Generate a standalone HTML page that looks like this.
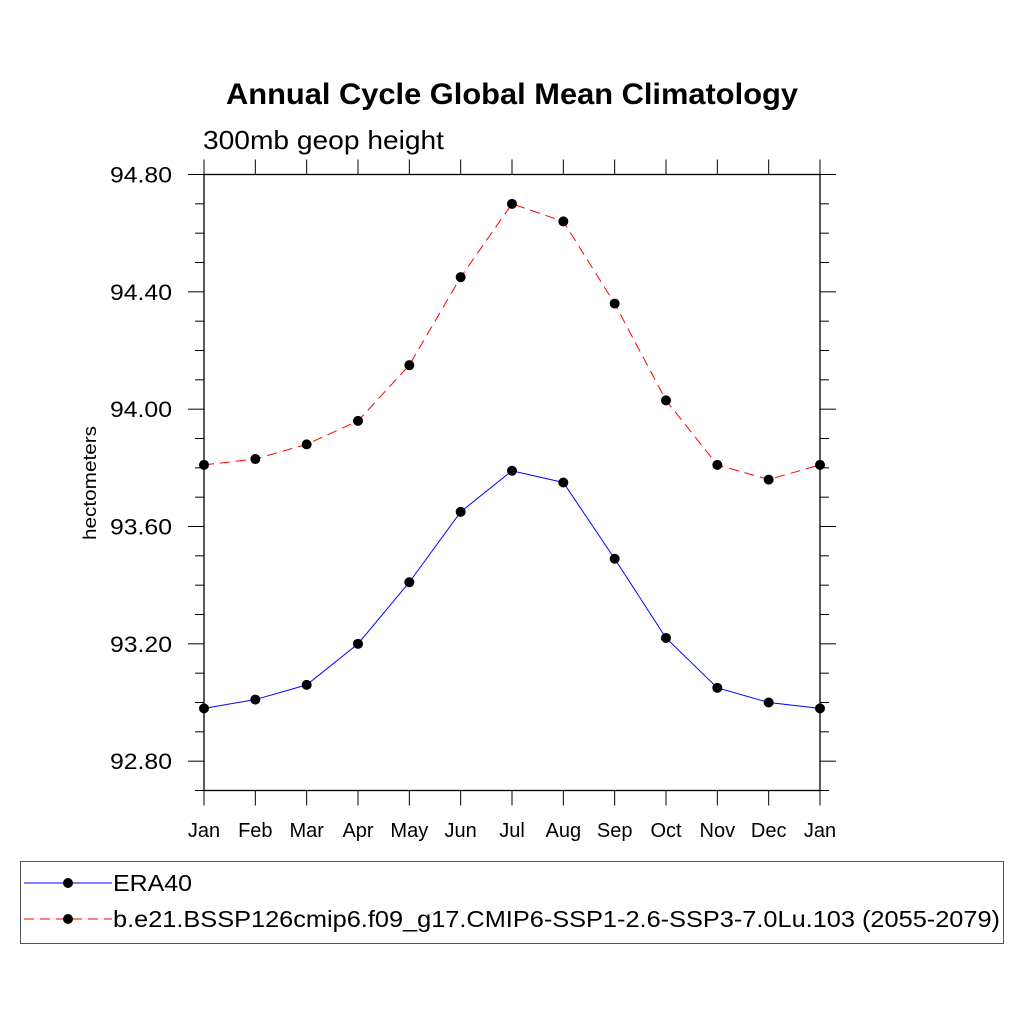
<!DOCTYPE html>
<html><head><meta charset="utf-8"><style>
body{margin:0;background:#fff}
svg text{font-family:"Liberation Sans",sans-serif}
</style></head><body>
<svg id="c" width="1024" height="1024" viewBox="0 0 1024 1024">
<text x="512" y="104" text-anchor="middle" font-size="30" font-weight="bold" textLength="572" lengthAdjust="spacingAndGlyphs">Annual Cycle Global Mean Climatology</text>
<text x="203" y="149" font-size="26" textLength="241" lengthAdjust="spacingAndGlyphs">300mb geop height</text>
<text transform="translate(96,483) rotate(-90)" text-anchor="middle" font-size="18" textLength="114" lengthAdjust="spacingAndGlyphs">hectometers</text>
<g id="axes"></g><g id="series"></g>
<rect x="20.5" y="861.5" width="983" height="82" fill="none" stroke="#555" stroke-width="1"/>
<line x1="24" y1="883" x2="112" y2="883" stroke="#00f"/>
<circle cx="68" cy="883" r="5" fill="#000"/>
<text x="113" y="891" font-size="23" textLength="79" lengthAdjust="spacingAndGlyphs">ERA40</text>
<line x1="24" y1="919" x2="112" y2="919" stroke="#f00" stroke-dasharray="10,6"/>
<circle cx="68" cy="919" r="5" fill="#000"/>
<text x="113" y="927" font-size="23" textLength="887" lengthAdjust="spacingAndGlyphs">b.e21.BSSP126cmip6.f09_g17.CMIP6-SSP1-2.6-SSP3-7.0Lu.103 (2055-2079)</text>
</svg>
<script>
const months=["Jan","Feb","Mar","Apr","May","Jun","Jul","Aug","Sep","Oct","Nov","Dec","Jan"];
const era40=[92.98,93.01,93.06,93.20,93.41,93.65,93.79,93.75,93.49,93.22,93.05,93.00,92.98];
const ssp=[93.81,93.83,93.88,93.96,94.15,94.45,94.70,94.64,94.36,94.03,93.81,93.76,93.81];
const yTicks=[92.80,93.20,93.60,94.00,94.40,94.80];
const yMin=92.70,yMax=94.80;
const L=204,R=820,T=174.5,B=790.5;
const xs=i=>L+(R-L)*i/(months.length-1);
const ys=v=>B-(v-yMin)/(yMax-yMin)*(B-T);
const NS="http://www.w3.org/2000/svg";
function mk(tag,attrs,parent){const e=document.createElementNS(NS,tag);for(const k in attrs)e.setAttribute(k,attrs[k]);parent.appendChild(e);return e;}
const ax=document.getElementById('axes');
const fr=mk('rect',{x:L,y:T,width:R-L,height:B-T,fill:'none',stroke:'#000','stroke-width':1.3},ax);


months.forEach((m,i)=>{
  const x=xs(i);
  const t1=mk('line',{x1:x,y1:B,x2:x,y2:B+15,stroke:'#000'},ax);
  
  
  const t2=mk('line',{x1:x,y1:T,x2:x,y2:T-15,stroke:'#000'},ax);
  
  
  const tx=mk('text',{x:x,y:837,'text-anchor':'middle','font-size':20},ax);
  tx.textContent=m;
  
  
});
for(let v=yMin;v<=yMax+1e-6;v+=0.1){
  const y=ys(v);
  const major=yTicks.some(t=>Math.abs(t-v)<1e-6);
  const len=major?16:9;
  const a=mk('line',{x1:L,y1:y,x2:L-len,y2:y,stroke:'#000'},ax);
  
  
  const b=mk('line',{x1:R,y1:y,x2:R+len,y2:y,stroke:'#000'},ax);
  
  
}
yTicks.forEach(v=>{
  const t=mk('text',{x:172,y:ys(v)+8,'text-anchor':'end','font-size':22,textLength:62,lengthAdjust:'spacingAndGlyphs'},ax);
  t.textContent=v.toFixed(2);
  
  
});
const sg=document.getElementById('series');
function draw(vals,color,dash,name){
  const p=mk('polyline',{points:vals.map((v,i)=>xs(i)+','+ys(v)).join(' '),fill:'none',stroke:color,'stroke-width':1,'stroke-dasharray':dash},sg);
  
  
  vals.forEach((v,i)=>{
    const c=mk('circle',{cx:xs(i),cy:ys(v),r:5,fill:'#000'},sg);
    
    
  });
}
draw(era40,'#00f','none','era40');
draw(ssp,'#f00','10,6','ssp');
</script>
</body></html>
